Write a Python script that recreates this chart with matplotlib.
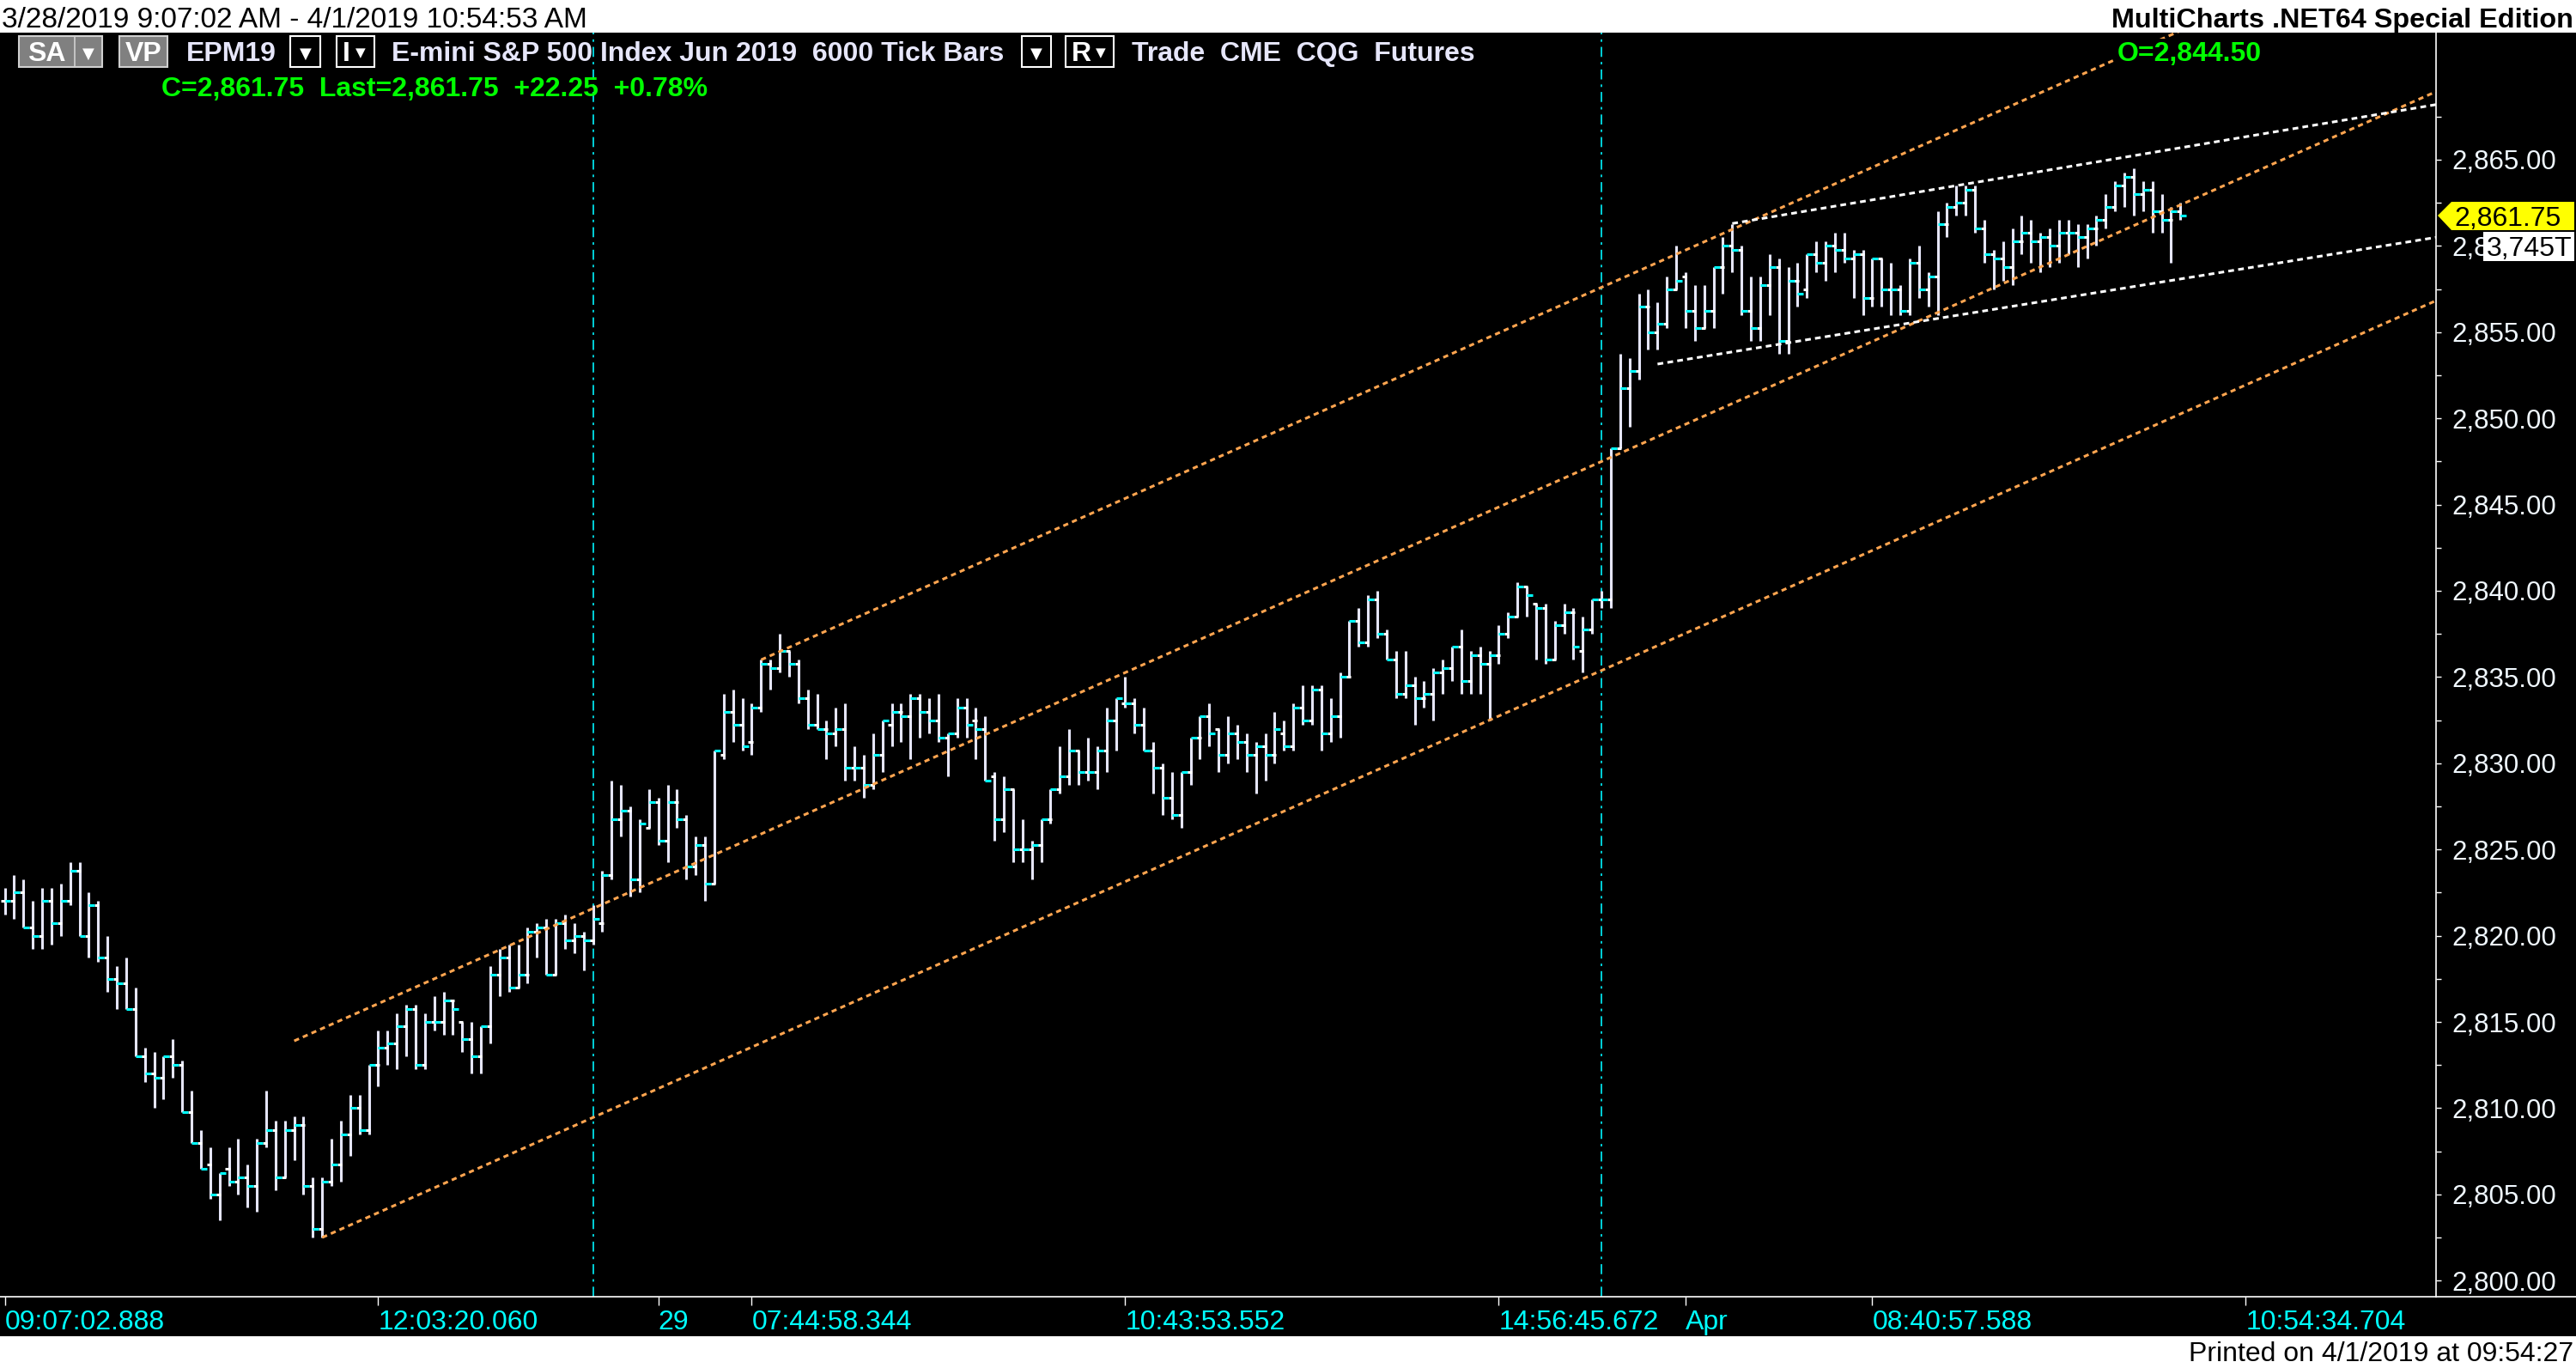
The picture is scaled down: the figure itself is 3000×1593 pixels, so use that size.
import matplotlib
matplotlib.use('Agg')
import matplotlib.pyplot as plt
from matplotlib.collections import LineCollection
from matplotlib.patches import Rectangle, Polygon
from matplotlib.lines import Line2D
import numpy as np

plt.rcParams['font.family'] = ['Liberation Sans', 'DejaVu Sans']

# EPM19, 6000 tick bars (one entry per bar)
opens = [
    2822.0, 2822.0, 2822.5, 2820.5, 2820.0, 2822.0, 2820.75, 2822.0, 2823.75, 2820.0,
    2821.75, 2818.75, 2817.5, 2817.25, 2815.75, 2813.0, 2812.0, 2811.75, 2813.0, 2812.5,
    2809.75, 2808.0, 2806.75, 2805.0, 2806.5, 2805.75, 2806.0, 2805.5, 2808.0, 2808.75,
    2806.0, 2808.75, 2809.0, 2805.5, 2803.0, 2805.75, 2806.75, 2808.5, 2810.0, 2808.75,
    2812.5, 2813.5, 2813.75, 2814.75, 2815.75, 2812.5, 2815.0, 2815.0, 2816.25, 2815.0,
    2814.0, 2813.0, 2814.75, 2817.75, 2818.75, 2817.0, 2817.75, 2820.25, 2820.5, 2817.75,
    2820.75, 2819.75, 2820.0, 2819.75, 2820.75, 2823.5, 2826.75, 2827.25, 2823.25, 2826.25,
    2827.75, 2825.5, 2827.75, 2826.75, 2824.0, 2825.25, 2823.0, 2830.5, 2833.0, 2832.25,
    2831.25, 2833.25, 2835.75, 2835.5, 2836.5, 2835.75, 2833.75, 2832.25, 2832.0, 2831.75,
    2832.0, 2829.75, 2829.75, 2828.75, 2830.5, 2832.25, 2833.0, 2832.75, 2833.75, 2833.0,
    2832.5, 2831.5, 2831.75, 2833.25, 2832.5, 2832.0, 2829.25, 2826.75, 2828.5, 2825.0,
    2825.0, 2825.25, 2826.75, 2828.5, 2829.25, 2830.75, 2829.5, 2829.5, 2830.75, 2832.5,
    2833.5, 2833.5, 2832.25, 2830.75, 2829.75, 2828.0, 2827.0, 2829.5, 2831.5, 2832.75,
    2832.0, 2830.5, 2831.75, 2831.25, 2830.5, 2831.0, 2830.5, 2831.75, 2831.0, 2833.25,
    2832.5, 2834.25, 2831.75, 2832.75, 2835.0, 2838.25, 2837.0, 2839.5, 2837.5, 2836.0,
    2834.0, 2834.5, 2833.75, 2834.0, 2835.25, 2835.5, 2836.75, 2834.75, 2836.25, 2835.75,
    2836.25, 2837.5, 2838.5, 2840.25, 2839.25, 2839.0, 2836.0, 2838.0, 2838.75, 2836.5,
    2837.75, 2839.5, 2839.5, 2848.25, 2851.75, 2852.75, 2856.5, 2855.0, 2855.5, 2857.5,
    2858.25, 2856.25, 2855.25, 2856.25, 2858.75, 2860.0, 2859.75, 2856.25, 2855.25, 2857.75,
    2858.75, 2854.5, 2858.0, 2857.5, 2859.5, 2859.0, 2860.0, 2859.75, 2859.25, 2859.5,
    2857.0, 2859.25, 2857.5, 2857.5, 2856.25, 2859.0, 2857.5, 2858.25, 2861.25, 2862.25,
    2862.5, 2863.25, 2861.0, 2859.5, 2859.25, 2858.75, 2860.25, 2860.75, 2860.25, 2860.5,
    2860.0, 2860.75, 2860.75, 2860.5, 2861.0, 2861.5, 2862.25, 2863.5, 2864.0, 2863.0,
    2863.25, 2862.0, 2861.5, 2862.0,
]
highs = [
    2822.75, 2823.5, 2823.25, 2822.0, 2822.75, 2822.75, 2823.0, 2824.25, 2824.25, 2822.5,
    2822.0, 2820.0, 2818.25, 2818.75, 2817.0, 2813.5, 2813.25, 2813.0, 2814.0, 2812.75,
    2811.0, 2808.75, 2807.75, 2806.25, 2807.75, 2808.25, 2806.75, 2808.25, 2811.0, 2809.25,
    2809.25, 2809.5, 2809.5, 2806.0, 2806.0, 2808.25, 2809.25, 2810.75, 2810.75, 2812.5,
    2814.5, 2814.5, 2815.5, 2816.0, 2816.0, 2815.5, 2816.5, 2816.75, 2816.25, 2815.0,
    2815.0, 2814.75, 2818.25, 2819.25, 2819.5, 2819.5, 2820.5, 2820.75, 2821.0, 2821.0,
    2821.25, 2820.75, 2820.25, 2821.75, 2823.75, 2829.0, 2828.75, 2827.5, 2826.75, 2828.5,
    2828.0, 2828.75, 2828.5, 2827.0, 2825.75, 2825.75, 2830.75, 2834.0, 2834.25, 2833.75,
    2833.5, 2836.0, 2836.0, 2837.5, 2836.5, 2836.0, 2834.25, 2834.0, 2832.5, 2833.25,
    2833.5, 2831.0, 2830.5, 2831.75, 2832.5, 2833.5, 2833.5, 2834.0, 2834.0, 2833.75,
    2834.0, 2831.75, 2833.75, 2833.75, 2833.25, 2832.75, 2829.5, 2829.25, 2828.5, 2826.75,
    2825.5, 2826.75, 2828.5, 2831.0, 2832.0, 2830.75, 2831.5, 2831.0, 2833.25, 2833.75,
    2835.0, 2833.75, 2833.25, 2831.25, 2830.0, 2829.5, 2829.5, 2831.5, 2832.75, 2833.5,
    2832.0, 2832.75, 2832.25, 2831.75, 2831.25, 2831.75, 2833.0, 2832.5, 2833.5, 2834.5,
    2834.5, 2834.5, 2833.75, 2835.25, 2838.25, 2839.0, 2839.75, 2840.0, 2837.75, 2836.5,
    2836.5, 2835.0, 2834.75, 2835.5, 2836.0, 2836.75, 2837.75, 2836.5, 2836.75, 2836.5,
    2838.0, 2838.75, 2840.5, 2840.25, 2839.25, 2839.25, 2838.25, 2839.25, 2839.0, 2838.5,
    2839.5, 2840.0, 2848.25, 2853.75, 2853.5, 2857.25, 2857.5, 2856.75, 2858.25, 2860.0,
    2858.5, 2857.75, 2857.75, 2858.75, 2860.5, 2861.25, 2860.0, 2858.25, 2858.25, 2859.5,
    2859.25, 2858.75, 2859.0, 2859.5, 2860.25, 2860.25, 2860.75, 2860.75, 2859.75, 2859.75,
    2859.25, 2859.25, 2859.0, 2857.75, 2859.25, 2860.0, 2858.5, 2862.0, 2862.5, 2863.5,
    2863.5, 2863.5, 2861.5, 2859.75, 2860.25, 2861.0, 2861.75, 2861.5, 2860.75, 2861.0,
    2861.5, 2861.5, 2861.25, 2861.25, 2861.75, 2863.0, 2863.75, 2864.25, 2864.5, 2863.75,
    2863.75, 2863.0, 2862.25, 2862.5,
]
lows = [
    2821.25, 2821.0, 2820.5, 2819.25, 2819.25, 2819.5, 2820.0, 2821.75, 2820.0, 2818.75,
    2818.5, 2816.75, 2815.75, 2815.75, 2813.0, 2811.5, 2810.0, 2810.5, 2811.75, 2809.75,
    2808.0, 2806.5, 2804.75, 2803.5, 2805.5, 2805.0, 2804.25, 2804.0, 2807.75, 2805.25,
    2806.0, 2807.0, 2805.0, 2802.5, 2802.5, 2805.5, 2805.75, 2807.25, 2808.5, 2808.5,
    2811.25, 2812.5, 2812.25, 2813.0, 2812.25, 2812.25, 2814.5, 2814.25, 2814.25, 2813.25,
    2812.0, 2812.0, 2813.75, 2816.5, 2816.75, 2817.0, 2817.25, 2818.75, 2817.75, 2817.75,
    2819.25, 2819.0, 2818.0, 2819.5, 2820.25, 2823.25, 2825.75, 2822.25, 2822.5, 2826.25,
    2825.25, 2824.25, 2826.25, 2823.25, 2823.5, 2822.0, 2823.0, 2830.25, 2831.25, 2830.75,
    2830.5, 2833.0, 2834.25, 2835.25, 2835.0, 2833.5, 2832.0, 2832.0, 2830.25, 2831.0,
    2829.0, 2829.0, 2828.0, 2828.5, 2829.5, 2831.0, 2831.25, 2830.25, 2831.5, 2831.75,
    2831.25, 2829.25, 2831.5, 2831.5, 2830.25, 2829.0, 2825.5, 2826.0, 2824.25, 2824.25,
    2823.25, 2824.25, 2826.5, 2828.25, 2828.75, 2828.75, 2829.0, 2828.5, 2829.5, 2830.75,
    2833.25, 2831.75, 2830.75, 2828.25, 2827.0, 2826.75, 2826.25, 2828.75, 2830.25, 2831.0,
    2829.5, 2830.0, 2830.25, 2829.5, 2828.25, 2829.0, 2830.0, 2830.75, 2830.75, 2832.25,
    2832.25, 2830.75, 2831.25, 2831.5, 2835.0, 2836.75, 2836.75, 2837.25, 2836.0, 2833.75,
    2833.75, 2832.25, 2833.25, 2832.5, 2834.0, 2834.75, 2834.0, 2834.0, 2834.0, 2832.5,
    2835.75, 2837.25, 2838.5, 2838.5, 2836.0, 2835.75, 2836.0, 2837.5, 2836.0, 2835.25,
    2837.5, 2839.0, 2839.0, 2848.25, 2849.5, 2852.25, 2854.0, 2854.0, 2855.25, 2857.5,
    2855.25, 2854.5, 2855.25, 2855.25, 2857.25, 2858.5, 2856.0, 2854.5, 2854.5, 2856.0,
    2853.75, 2853.75, 2856.5, 2857.0, 2858.5, 2858.0, 2858.5, 2859.0, 2857.0, 2856.0,
    2856.5, 2856.5, 2856.0, 2856.0, 2856.0, 2857.0, 2856.5, 2856.0, 2860.5, 2861.75,
    2861.75, 2860.75, 2859.0, 2857.5, 2858.0, 2857.75, 2859.5, 2859.0, 2858.5, 2858.75,
    2859.0, 2859.5, 2858.75, 2859.25, 2860.0, 2861.0, 2862.0, 2862.25, 2861.75, 2862.0,
    2860.75, 2860.75, 2859.0, 2861.5,
]
closes = [
    2822.0, 2822.5, 2820.5, 2820.0, 2822.0, 2820.75, 2822.0, 2823.75, 2820.0, 2821.75,
    2818.75, 2817.5, 2817.25, 2815.75, 2813.0, 2812.0, 2811.75, 2813.0, 2812.5, 2809.75,
    2808.0, 2806.5, 2805.0, 2806.25, 2805.75, 2806.0, 2805.5, 2808.0, 2808.75, 2806.0,
    2808.75, 2809.0, 2805.5, 2803.0, 2805.75, 2806.75, 2808.5, 2810.0, 2808.75, 2812.5,
    2813.5, 2813.75, 2814.75, 2815.75, 2812.5, 2815.0, 2815.0, 2816.25, 2815.75, 2814.0,
    2813.0, 2814.75, 2817.75, 2818.75, 2817.0, 2817.75, 2820.25, 2820.5, 2817.75, 2820.75,
    2819.75, 2820.0, 2819.75, 2821.0, 2823.5, 2826.75, 2827.25, 2823.25, 2826.5, 2827.75,
    2825.5, 2827.75, 2826.75, 2824.0, 2825.25, 2823.0, 2830.75, 2833.0, 2832.25, 2831.0,
    2833.25, 2835.75, 2835.5, 2836.5, 2835.75, 2833.75, 2832.25, 2832.0, 2831.75, 2832.0,
    2829.75, 2829.75, 2828.75, 2830.5, 2832.5, 2833.0, 2832.75, 2833.75, 2833.0, 2832.5,
    2831.5, 2831.75, 2833.25, 2832.25, 2832.0, 2829.0, 2826.75, 2828.5, 2825.0, 2825.0,
    2825.25, 2826.75, 2828.5, 2829.25, 2830.75, 2829.5, 2829.5, 2830.75, 2832.5, 2833.75,
    2833.5, 2832.25, 2830.75, 2829.75, 2828.0, 2827.0, 2829.5, 2831.5, 2832.75, 2831.75,
    2830.5, 2831.75, 2831.25, 2830.5, 2831.0, 2830.5, 2832.0, 2831.0, 2833.25, 2832.5,
    2834.25, 2831.75, 2832.75, 2835.0, 2838.25, 2837.0, 2839.5, 2837.5, 2836.0, 2834.0,
    2834.5, 2833.75, 2834.0, 2835.25, 2835.5, 2836.75, 2834.75, 2836.25, 2835.75, 2836.25,
    2837.5, 2838.5, 2840.25, 2839.75, 2839.0, 2836.0, 2838.0, 2838.75, 2836.75, 2837.75,
    2839.5, 2839.5, 2848.25, 2851.75, 2852.75, 2856.5, 2855.0, 2855.5, 2857.5, 2858.0,
    2856.25, 2855.25, 2856.25, 2858.75, 2860.0, 2859.75, 2856.25, 2855.25, 2857.75, 2858.75,
    2854.5, 2858.0, 2857.25, 2859.5, 2859.0, 2860.0, 2859.75, 2859.25, 2859.5, 2857.0,
    2859.25, 2857.5, 2857.5, 2856.25, 2859.0, 2857.5, 2858.25, 2861.25, 2862.25, 2862.5,
    2863.25, 2861.0, 2859.5, 2859.25, 2858.75, 2860.25, 2860.75, 2860.25, 2860.5, 2860.0,
    2860.75, 2860.75, 2860.5, 2861.0, 2861.5, 2862.25, 2863.5, 2864.0, 2863.0, 2863.25,
    2862.0, 2861.5, 2862.0, 2861.75,
]

# time axis labels (bar index where each label sits)
tick_bars = [0, 40, 70, 80, 120, 160, 180, 200, 240]
tick_labels = ['09:07:02.888', '12:03:20.060', '29', '07:44:58.344', '10:43:53.552',
               '14:56:45.672', 'Apr', '08:40:57.588', '10:54:34.704']
session_bars = [63, 171]

# orange trend channel: start bar, start price, common slope (points per bar)
channel_start = [81, 31, 34]
channel_price = [2836.0, 2813.9, 2802.5]
channel_slope = 0.24

# white wedge lines
wedge_upper_x = [185, 260.4]
wedge_upper_y = [2861.3, 2868.2]
wedge_lower_x = [177, 260.4]
wedge_lower_y = [2853.15, 2860.5]

price_ticks = np.arange(2800, 2866, 5)
last_price = 2861.75

W, H = 3000, 1593


def fx(px):
    return px / W


def fy(py):
    return 1 - py / H


fig = plt.figure(figsize=(30, 15.93), dpi=100)
fig.patch.set_facecolor('white')
fig.patches.append(Rectangle((0, fy(1556)), 1, fy(38) - fy(1556), transform=fig.transFigure,
                             facecolor='black', edgecolor='none', zorder=-5))

XMIN, XMAX = -0.506, 260.37
YMIN, YMAX = 2799.064, 2872.37
ax = fig.add_axes([0, fy(1510), fx(2837), fy(38) - fy(1510)])
ax.set_facecolor('black')
ax.set_xlim(XMIN, XMAX)
ax.set_ylim(YMIN, YMAX)

# OHLC bars
idx = np.arange(len(closes))
ax.add_collection(LineCollection([[(i, l), (i, h)] for i, l, h in zip(idx, lows, highs)],
                                 colors='#E6E6FA', linewidths=2.2, capstyle='butt', zorder=2))
ax.add_collection(LineCollection([[(i - 0.38, o), (i + 0.1, o)] for i, o in zip(idx, opens)],
                                 colors='white', linewidths=2.2, capstyle='butt', zorder=3))
ax.add_collection(LineCollection([[(i, c), (i + 0.64, c)] for i, c in zip(idx, closes)],
                                 colors='#00FFFF', linewidths=2.2, capstyle='butt', zorder=4))

# session separators
for b in session_bars:
    ax.axvline(b, color='#00D0D8', lw=1.4, ls=(0, (6, 3, 1.5, 3)), zorder=1)

# channel + wedge
for s, p in zip(channel_start, channel_price):
    ax.plot([s, XMAX], [p, p + channel_slope * (XMAX - s)], color='#FFA550', lw=2.2,
            ls=(0, (2.0, 1.6)), zorder=5)
ax.plot(wedge_upper_x, wedge_upper_y, color='white', lw=2.2, ls=(0, (2.2, 1.6)), zorder=5)
ax.plot(wedge_lower_x, wedge_lower_y, color='white', lw=2.2, ls=(0, (2.2, 1.6)), zorder=5)

# axes styling
for s in ['top', 'left']:
    ax.spines[s].set_visible(False)
ax.spines['right'].set_color('white')
ax.spines['bottom'].set_color('white')
ax.spines['right'].set_linewidth(1.2)
ax.spines['bottom'].set_linewidth(1.2)
ax.yaxis.tick_right()
ax.set_yticks(price_ticks)
ax.set_yticklabels([f'{v:,.2f}' for v in price_ticks])
ax.set_yticks(np.arange(2800, 2870, 2.5), minor=True)
ax.tick_params(axis='y', which='both', colors='white', length=4.5, width=1, pad=9,
               labelsize=22.5, labelcolor='#F0F8FF')
ax.set_xticks(tick_bars)
ax.set_xticklabels(tick_labels, ha='left')
ax.tick_params(axis='x', colors='white', length=7, width=1, pad=4,
               labelsize=23, labelcolor='#00FFFF')
fig.add_artist(Line2D([fx(2837), 1], [fy(1510), fy(1510)], color='white', lw=1.2,
                      transform=fig.transFigure))

# price markers on the scale
fig.patches.append(Polygon([(fx(2839), fy(251)), (fx(2855), fy(235)), (fx(2998), fy(235)),
                            (fx(2998), fy(268)), (fx(2855), fy(268))], closed=True,
                           transform=fig.transFigure, facecolor='#FFFF00', edgecolor='none', zorder=10))
fig.text(fx(2858), fy(263), f'{last_price:,.2f}', fontsize=23, color='black', zorder=11)
fig.patches.append(Rectangle((fx(2892), fy(304)), fx(106), fy(270) - fy(304), transform=fig.transFigure,
                             facecolor='white', edgecolor='none', zorder=10))
fig.text(fx(2896), fy(298), '3,745T', fontsize=23, color='black', zorder=11)

# header and footer strips
fig.text(fx(2), fy(32), '3/28/2019 9:07:02 AM - 4/1/2019 10:54:53 AM', fontsize=24, color='black')
fig.text(fx(2997), fy(32), 'MultiCharts .NET64 Special Edition', fontsize=23.3, color='black',
         ha='right', fontweight='bold')
fig.text(fx(2997), fy(1585), 'Printed on 4/1/2019 at 09:54:27', fontsize=23, color='black', ha='right')


def button(x0, x1, fill, edge):
    fig.patches.append(Rectangle((fx(x0), fy(78)), fx(x1 - x0), fy(42) - fy(78),
                                 transform=fig.transFigure, facecolor=fill, edgecolor=edge,
                                 lw=1.5, zorder=10))


button(22, 119, '#808080', '#D0D0D0')
fig.add_artist(Line2D([fx(87), fx(87)], [fy(42), fy(78)], color='#D0D0D0', lw=1.2,
                      transform=fig.transFigure, zorder=11))
fig.text(fx(54), fy(71), 'SA', fontsize=23, fontweight='bold', color='white', ha='center', zorder=12)
fig.text(fx(103), fy(68), '▼', fontsize=13, color='white', ha='center', family='DejaVu Sans', zorder=12)
button(139, 195, '#808080', '#D0D0D0')
fig.text(fx(167), fy(71), 'VP', fontsize=23, fontweight='bold', color='white', ha='center', zorder=12)
fig.text(fx(217), fy(71), 'EPM19', fontsize=23, fontweight='bold', color='#E6E6FA', zorder=12)
button(338, 373, 'black', 'white')
fig.text(fx(355.5), fy(68), '▼', fontsize=13, color='white', ha='center', family='DejaVu Sans', zorder=12)
button(392, 436, 'black', 'white')
fig.text(fx(403), fy(71), 'I', fontsize=23, fontweight='bold', color='white', ha='center', zorder=12)
fig.text(fx(420), fy(66), '▼', fontsize=11, color='white', ha='center', family='DejaVu Sans', zorder=12)
fig.text(fx(456), fy(71), 'E-mini S&P 500 Index Jun 2019  6000 Tick Bars', fontsize=23,
         fontweight='bold', color='#E6E6FA', zorder=12)
button(1190, 1224, 'black', 'white')
fig.text(fx(1207), fy(68), '▼', fontsize=13, color='white', ha='center', family='DejaVu Sans', zorder=12)
button(1241, 1297, 'black', 'white')
fig.text(fx(1259), fy(71), 'R', fontsize=23, fontweight='bold', color='white', ha='center', zorder=12)
fig.text(fx(1282), fy(66), '▼', fontsize=11, color='white', ha='center', family='DejaVu Sans', zorder=12)
fig.text(fx(1318), fy(71), 'Trade  CME  CQG  Futures', fontsize=23, fontweight='bold',
         color='#E6E6FA', zorder=12)
fig.text(fx(188), fy(112), 'C=2,861.75  Last=2,861.75  +22.25  +0.78%', fontsize=23,
         fontweight='bold', color='#00FF00', zorder=12)
fig.text(fx(2466), fy(71), 'O=2,844.50', fontsize=23, fontweight='bold', color='#00FF00', zorder=12,
         bbox=dict(facecolor='black', edgecolor='none', pad=2))

fig.savefig('out.png', dpi=100, facecolor=fig.get_facecolor())
